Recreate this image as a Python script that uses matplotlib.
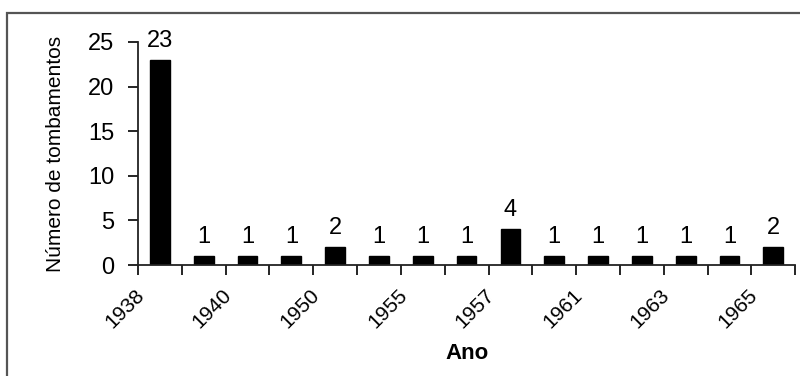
import matplotlib.pyplot as plt
import matplotlib.transforms as mtransforms
from matplotlib.patches import Rectangle

plt.rcParams['font.family'] = ['Liberation Sans', 'DejaVu Sans']

# data
valores = [23, 1, 1, 1, 2, 1, 1, 1, 4, 1, 1, 1, 1, 1, 2]
rotulos_anos = ["1938", "1940", "1950", "1955", "1957", "1961", "1963", "1965"]
y_ticks = [0, 5, 10, 15, 20, 25]

fig = plt.figure(figsize=(8, 3.76), dpi=100)
ax = fig.add_axes([0.1725, 0.2952, 0.8215, 0.5931])

# outer frame (extends beyond the image on right and bottom)
fig.patches.append(Rectangle((7 / 800, -0.2), 1.2, 1 - 13 / 376 + 0.2,
                             transform=fig.transFigure, fill=False,
                             edgecolor="#555555", linewidth=1.6))

pos = list(range(len(valores)))
ax.bar(pos, valores, width=0.45, color="black", edgecolor="black")

for x, v in zip(pos, valores):
    ax.annotate(str(v), (x, v), xytext=(0, 6), textcoords="offset points",
                ha="center", va="bottom", fontsize=17)

ax.set_xlim(-0.5, len(valores) - 0.5)
ax.set_ylim(0, 25)
ax.set_yticks(y_ticks)
ax.tick_params(axis="y", labelsize=17, length=7, width=1.2, pad=10)

# tick marks between categories, labels on every other boundary
bordas = [i - 0.5 for i in range(len(valores) + 1)]
labels = [""] * len(bordas)
for i, r in enumerate(rotulos_anos):
    labels[2 * i] = r
ax.set_xticks(bordas)
ax.set_xticklabels(labels, rotation=45, ha="right", va="top", fontsize=15)
ax.tick_params(axis="x", length=7, width=1.2, pad=8)
offset = mtransforms.ScaledTranslation(7 / 72, 0, fig.dpi_scale_trans)
for lab in ax.get_xticklabels():
    lab.set_transform(lab.get_transform() + offset)

for s in ["top", "right"]:
    ax.spines[s].set_visible(False)
for s in ["left", "bottom"]:
    ax.spines[s].set_linewidth(1.3)
    ax.spines[s].set_color("#222222")

ax.set_ylabel("Número de tombamentos", fontsize=15, labelpad=17)
ax.set_xlabel("Ano", fontsize=16, fontweight="bold", labelpad=8)

fig.savefig("out.png", dpi=100)
